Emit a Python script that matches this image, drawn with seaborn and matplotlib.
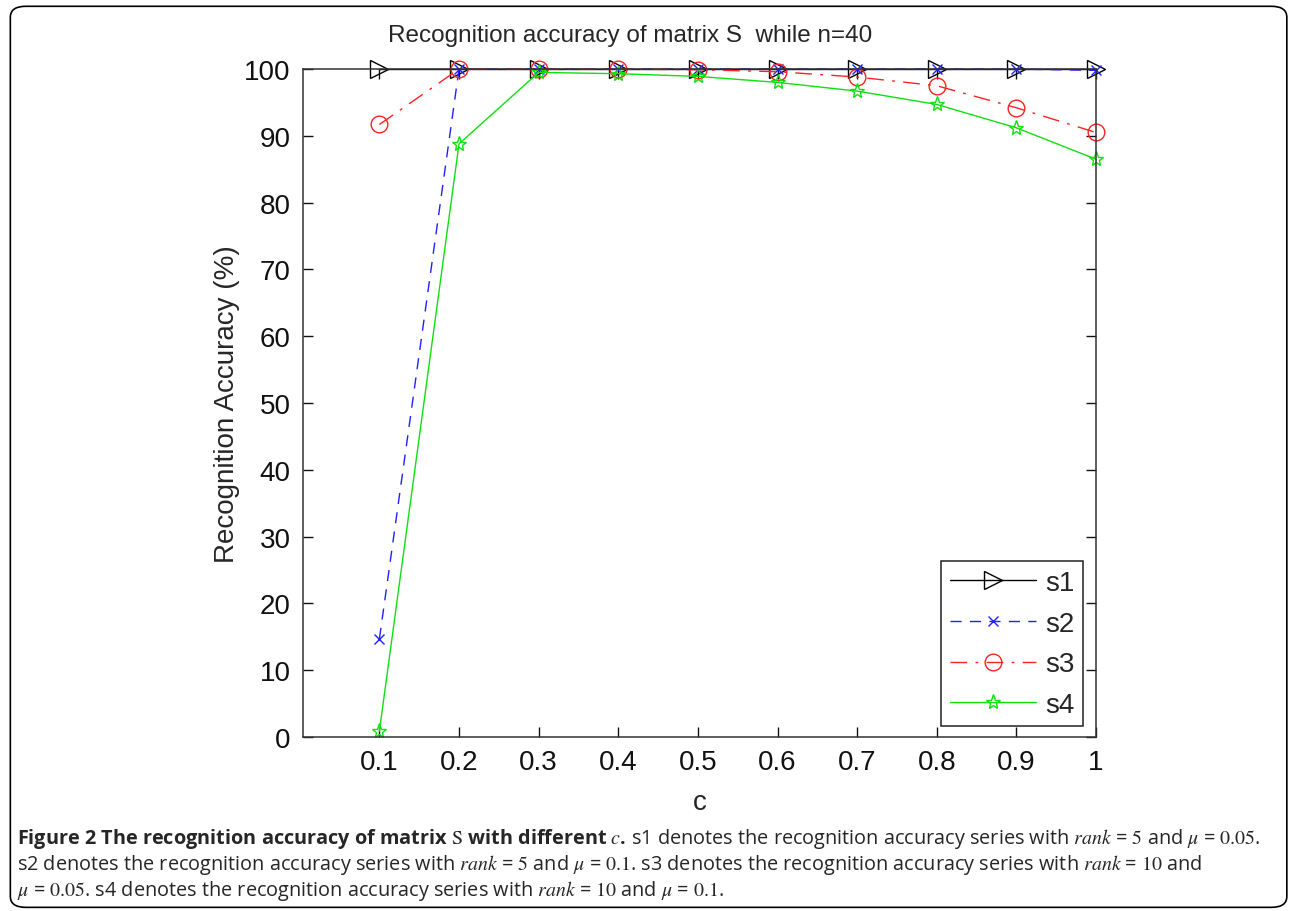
import matplotlib
matplotlib.use("Agg")
import matplotlib.pyplot as plt
import pandas as pd
import seaborn as sns
from matplotlib.patches import FancyBboxPatch

# values
c_values = [0.1, 0.2, 0.3, 0.4, 0.5, 0.6, 0.7, 0.8, 0.9, 1.0]
s1_acc = [100, 100, 100, 100, 100, 100, 100, 100, 100, 100]
s2_acc = [14.7, 100, 100, 100, 100, 100, 100, 100, 100, 99.8]
s3_acc = [91.7, 100, 100, 100, 99.9, 99.6, 98.8, 97.5, 94.2, 90.5]
s4_acc = [0.9, 88.8, 99.5, 99.3, 98.9, 98.0, 96.7, 94.7, 91.2, 86.5]
series_names = ["s1", "s2", "s3", "s4"]
x_ticks = [0.1, 0.2, 0.3, 0.4, 0.5, 0.6, 0.7, 0.8, 0.9, 1.0]
x_tick_labels = ["0.1", "0.2", "0.3", "0.4", "0.5", "0.6", "0.7", "0.8", "0.9", "1"]
y_ticks = [0, 10, 20, 30, 40, 50, 60, 70, 80, 90, 100]

sns.set_style("ticks")
plt.rcParams["font.family"] = ["Liberation Sans", "DejaVu Sans"]
plt.rcParams["mathtext.fontset"] = "stix"

df = pd.DataFrame({
    "c": c_values * 4,
    "acc": s1_acc + s2_acc + s3_acc + s4_acc,
    "series": [s for s in series_names for _ in c_values],
})

palette = {"s1": "#000000", "s2": "#2020ff", "s3": "#ff2020", "s4": "#10e010"}
linestyles = {"s1": "-", "s2": (0, (8, 6)), "s3": (0, (12, 6, 2, 6)), "s4": "-"}
markers = {"s1": ">", "s2": "x", "s3": "o", "s4": "*"}
msizes = {"s1": 13, "s2": 7, "s3": 12, "s4": 11}

fig = plt.figure(figsize=(12.92, 9.12), dpi=100)
ax = fig.add_axes([0.2345, 0.1908, 0.6138, 0.7324])

for name in series_names:
    sns.lineplot(data=df[df["series"] == name], x="c", y="acc",
                 color=palette[name], linestyle=linestyles[name],
                 marker=markers[name], markersize=msizes[name],
                 markerfacecolor="none", markeredgecolor=palette[name],
                 markeredgewidth=1.0, linewidth=1.0, clip_on=False,
                 label=name, legend=False, ax=ax)

ax.set_xlim(0.004, 1.0)
ax.set_ylim(0, 100)
ax.set_xticks(x_ticks)
ax.set_xticklabels(x_tick_labels)
ax.set_yticks(y_ticks)
ax.tick_params(direction="in", top=True, right=True, length=7, width=1,
               labelsize=20, pad=9, colors="#111111")
for sp in ax.spines.values():
    sp.set_visible(True)
    sp.set_linewidth(1.1)
    sp.set_color("#333333")

ax.set_xlabel("c", fontsize=20, labelpad=10)
ax.set_ylabel("Recognition Accuracy (%)", fontsize=20, labelpad=3)
fig.text(0.4876, 1 - 36 / 912, "Recognition accuracy of matrix S  while n=40",
         ha="center", va="center", fontsize=17.5)

leg = ax.legend(handles=ax.lines, labels=series_names, loc="lower right",
                bbox_to_anchor=(0.984, 0.016), fontsize=20, numpoints=1,
                handlelength=3.1, handletextpad=0.35, labelspacing=0.53,
                borderpad=0.3, fancybox=False, framealpha=1, borderaxespad=0)
leg.get_frame().set_edgecolor("#222222")
leg.get_frame().set_linewidth(1.1)

# rounded frame round the whole figure
fig.patches.append(FancyBboxPatch((0.008, 0.004), 0.988, 0.988,
                                  boxstyle="round,pad=0,rounding_size=0.012",
                                  transform=fig.transFigure, fill=False,
                                  edgecolor="black", linewidth=1.2))

# caption
cap_fam = ["Open Sans", "DejaVu Sans"]
cap_size = 14.35
t1 = fig.text(0.013, 1 - 844 / 912, "Figure 2 The recognition accuracy of matrix $\\mathrm{S}$ with different $c$.",
              fontsize=cap_size, weight="bold", family=cap_fam, va="baseline")
ax.annotate(" s1 denotes the recognition accuracy series with $rank$ = $5$ and $\\mu$ = $0.05$.",
            xy=(1, 0), xycoords=t1, va="bottom", ha="left",
            fontsize=cap_size, family=cap_fam, annotation_clip=False)
fig.text(0.013, 1 - 870 / 912,
         "s2 denotes the recognition accuracy series with $rank$ = $5$ and $\\mu$ = $0.1$. "
         "s3 denotes the recognition accuracy series with $rank$ = $10$ and",
         fontsize=cap_size, family=cap_fam, va="baseline")
fig.text(0.013, 1 - 896 / 912,
         "$\\mu$ = $0.05$. s4 denotes the recognition accuracy series with $rank$ = $10$ and $\\mu$ = $0.1$.",
         fontsize=cap_size, family=cap_fam, va="baseline")

fig.savefig("out.png", dpi=100)
